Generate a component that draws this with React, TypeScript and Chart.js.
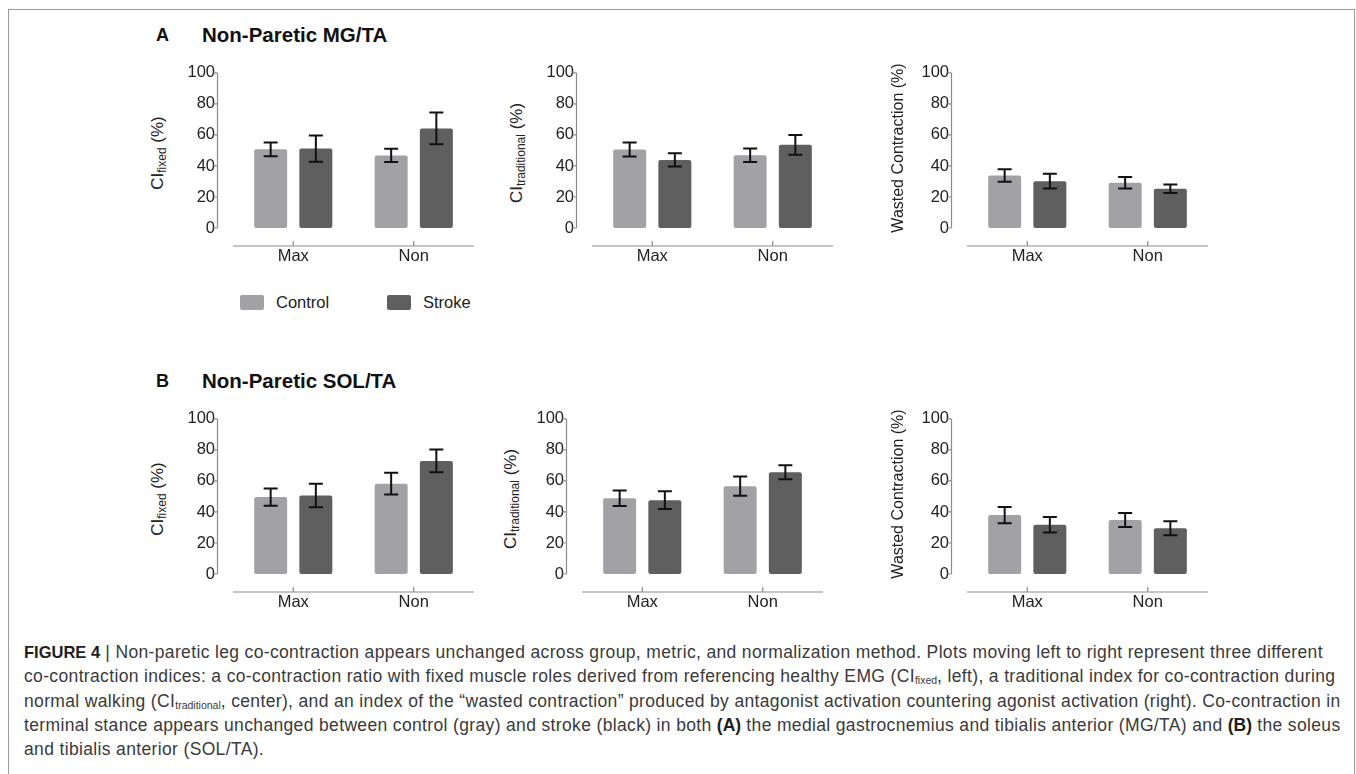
import React, { useEffect, useRef } from 'react';
import { Chart, registerables } from 'chart.js';
Chart.register(...registerables);

// ---------- data ----------
const categories = ['Max', 'Non'];
const seriesNames = ['Control', 'Stroke'];
const yMin = 0;
const yMax = 100;
const yStep = 20;

// A: Non-Paretic MG/TA
const mgFixedControl = [50.7, 46.8];
const mgFixedControlErr = [4.4, 4.3];
const mgFixedStroke = [51.2, 64.2];
const mgFixedStrokeErr = [8.5, 10.2];
const mgTradControl = [50.6, 46.9];
const mgTradControlErr = [4.5, 4.3];
const mgTradStroke = [43.9, 53.6];
const mgTradStrokeErr = [4.3, 6.3];
const mgWastedControl = [33.8, 29.2];
const mgWastedControlErr = [4.0, 3.7];
const mgWastedStroke = [30.2, 25.3];
const mgWastedStrokeErr = [4.8, 2.8];

// B: Non-Paretic SOL/TA
const solFixedControl = [49.6, 58.2];
const solFixedControlErr = [5.6, 7.0];
const solFixedStroke = [50.6, 72.9];
const solFixedStrokeErr = [7.6, 7.3];
const solTradControl = [48.8, 56.6];
const solTradControlErr = [5.0, 6.2];
const solTradStroke = [47.6, 65.6];
const solTradStrokeErr = [5.7, 4.5];
const solWastedControl = [38.0, 34.8];
const solWastedControlErr = [5.2, 4.5];
const solWastedStroke = [31.8, 29.5];
const solWastedStrokeErr = [5.0, 4.5];

// ---------- style ----------
const CONTROL_COLOR = '#a2a2a6';
const STROKE_COLOR = '#5f5f5f';
const AXIS_COLOR = '#8c8c8c';
const TEXT_COLOR = '#222222';
const FONT = '"Liberation Sans", Arial, Helvetica, sans-serif';

const TICK_SIZE = 16.5;
const Y_TICK_PAD = 18;
const Y_SCALE_W = 60;
const X_SCALE_H = 45;
// chart.js adds half the label line height plus tick padding above the area
const TOP_OFFSET = (TICK_SIZE * 1.2) / 2 + Y_TICK_PAD;
const PAD_RIGHT = 10;
const AREA_W = 241;
const AREA_H = 155;

const detachedAxes = {
  id: 'detachedAxes',
  afterDraw(chart: any) {
    const { ctx, chartArea, scales } = chart;
    const xs = scales.x;
    const ys = scales.y;
    ctx.save();
    ctx.strokeStyle = AXIS_COLOR;
    ctx.lineWidth = 1.2;
    const ax = chartArea.left - 15.5;
    const yTop = ys.getPixelForValue(yMax);
    const yBot = ys.getPixelForValue(yMin);
    ctx.beginPath();
    ctx.moveTo(ax, yTop);
    ctx.lineTo(ax, yBot);
    ys.ticks.forEach((t: any) => {
      const py = ys.getPixelForValue(t.value);
      ctx.moveTo(ax - 4, py);
      ctx.lineTo(ax, py);
    });
    const ay = chartArea.bottom + 18;
    ctx.moveTo(chartArea.left, ay);
    ctx.lineTo(chartArea.right, ay);
    xs.ticks.forEach((_t: any, i: number) => {
      const px = xs.getPixelForValue(i);
      ctx.moveTo(px, ay);
      ctx.lineTo(px, ay - 5);
    });
    ctx.stroke();
    ctx.restore();
  },
};

const errorBars = {
  id: 'errorBars',
  afterDatasetsDraw(chart: any) {
    const { ctx, scales } = chart;
    const ys = scales.y;
    ctx.save();
    ctx.strokeStyle = '#111111';
    ctx.lineWidth = 2;
    chart.data.datasets.forEach((ds: any, di: number) => {
      const meta = chart.getDatasetMeta(di);
      meta.data.forEach((bar: any, i: number) => {
        const v = ds.data[i];
        const e = ds.errors[i];
        const x = bar.x;
        const hi = ys.getPixelForValue(v + e);
        const lo = ys.getPixelForValue(v - e);
        const cap = 7;
        ctx.beginPath();
        ctx.moveTo(x, hi);
        ctx.lineTo(x, lo);
        ctx.moveTo(x - cap, hi);
        ctx.lineTo(x + cap, hi);
        ctx.moveTo(x - cap, lo);
        ctx.lineTo(x + cap, lo);
        ctx.stroke();
      });
    });
    ctx.restore();
  },
};

type PanelProps = {
  areaLeft: number;
  areaTop: number;
  control: number[];
  controlErr: number[];
  stroke: number[];
  strokeErr: number[];
};

function BarPanel({ areaLeft, areaTop, control, controlErr, stroke, strokeErr }: PanelProps) {
  const ref = useRef<HTMLCanvasElement | null>(null);
  const cw = Y_SCALE_W + AREA_W + PAD_RIGHT;
  const ch = Math.round(TOP_OFFSET + AREA_H + X_SCALE_H);
  useEffect(() => {
    if (!ref.current) return;
    const tickFont = { family: FONT, size: TICK_SIZE };
    const chart = new Chart(ref.current, {
      type: 'bar',
      data: {
        labels: categories,
        datasets: [
          {
            label: seriesNames[0],
            data: control,
            errors: controlErr,
            backgroundColor: CONTROL_COLOR,
            borderRadius: 2,
            borderSkipped: false,
            categoryPercentage: 0.75,
            barPercentage: 0.73,
          } as any,
          {
            label: seriesNames[1],
            data: stroke,
            errors: strokeErr,
            backgroundColor: STROKE_COLOR,
            borderRadius: 2,
            borderSkipped: false,
            categoryPercentage: 0.75,
            barPercentage: 0.73,
          } as any,
        ],
      },
      options: {
        responsive: false,
        maintainAspectRatio: false,
        animation: false,
        devicePixelRatio: 1,
        layout: { padding: { left: 0, right: PAD_RIGHT, top: 0, bottom: 0 } },
        plugins: { legend: { display: false }, tooltip: { enabled: false } },
        scales: {
          x: {
            type: 'category',
            offset: true,
            grid: { display: false, drawTicks: false },
            border: { display: false },
            ticks: { color: TEXT_COLOR, font: tickFont, padding: 19, maxRotation: 0 },
            afterFit: (s: any) => {
              s.height = X_SCALE_H;
            },
          },
          y: {
            min: yMin,
            max: yMax,
            grid: { display: false, drawTicks: false },
            border: { display: false },
            ticks: { stepSize: yStep, color: TEXT_COLOR, font: tickFont, padding: Y_TICK_PAD },
            afterFit: (s: any) => {
              s.width = Y_SCALE_W;
            },
          },
        },
      } as any,
      plugins: [detachedAxes, errorBars],
    });
    return () => chart.destroy();
  }, [control, controlErr, stroke, strokeErr]);
  return (
    <canvas
      ref={ref}
      width={cw}
      height={ch}
      style={{
        position: 'absolute',
        left: areaLeft - Y_SCALE_W,
        top: areaTop - TOP_OFFSET,
        width: cw,
        height: ch,
      }}
    />
  );
}

function YTitle({ cx, cy, size, children }: { cx: number; cy: number; size: number; children: React.ReactNode }) {
  return (
    <div
      style={{
        position: 'absolute',
        left: cx,
        top: cy,
        transform: 'translate(-50%, -50%) rotate(-90deg)',
        whiteSpace: 'nowrap',
        fontFamily: FONT,
        fontSize: size,
        color: TEXT_COLOR,
        lineHeight: '20px',
      }}
    >
      {children}
    </div>
  );
}

const subStyle: React.CSSProperties = { fontSize: 12, verticalAlign: '-3px', lineHeight: 0 };
const capSub: React.CSSProperties = { fontSize: 10.5, verticalAlign: '-2px', lineHeight: 0, letterSpacing: 0 };

function Header({ top, letter, text }: { top: number; letter: string; text: string }) {
  return (
    <>
      <div style={{ position: 'absolute', left: 156, top, fontFamily: FONT, fontWeight: 700, fontSize: 18, color: '#111', lineHeight: '20px' }}>{letter}</div>
      <div style={{ position: 'absolute', left: 202, top: top - 2, fontFamily: FONT, fontWeight: 700, fontSize: 20.5, color: '#111', lineHeight: '24px', whiteSpace: 'nowrap' }}>{text}</div>
    </>
  );
}

export default function App() {
  const rowA = 73;
  const rowB = 419;
  const captionLine: React.CSSProperties = {
    position: 'absolute',
    left: 24,
    whiteSpace: 'nowrap',
    fontFamily: FONT,
    fontSize: 17.5,
    letterSpacing: '0.35px',
    color: '#3a3a3a',
    lineHeight: '20px',
  };
  const boldCap: React.CSSProperties = { color: '#1e1e1e', letterSpacing: 0 };
  const capTop = 642;
  const capStep = 24.3;
  return (
    <div
      style={{
        position: 'absolute',
        left: 0,
        top: 0,
        width: 1356,
        height: 774,
        overflow: 'hidden',
        background: '#ffffff',
      }}
    >
      <div
        style={{
          position: 'absolute',
          left: 7.5,
          top: 8.5,
          width: 1345,
          height: 820,
          borderTop: '1.5px solid #9a9a9a',
          borderLeft: '1.5px solid #9a9a9a',
          borderRight: '1.5px solid #9a9a9a',
        }}
      />

      <Header top={25} letter="A" text="Non-Paretic MG/TA" />
      <Header top={371} letter="B" text="Non-Paretic SOL/TA" />

      <BarPanel areaLeft={233} areaTop={rowA} control={mgFixedControl} controlErr={mgFixedControlErr} stroke={mgFixedStroke} strokeErr={mgFixedStrokeErr} />
      <BarPanel areaLeft={591.7} areaTop={rowA} control={mgTradControl} controlErr={mgTradControlErr} stroke={mgTradStroke} strokeErr={mgTradStrokeErr} />
      <BarPanel areaLeft={966.7} areaTop={rowA} control={mgWastedControl} controlErr={mgWastedControlErr} stroke={mgWastedStroke} strokeErr={mgWastedStrokeErr} />
      <BarPanel areaLeft={233} areaTop={rowB} control={solFixedControl} controlErr={solFixedControlErr} stroke={solFixedStroke} strokeErr={solFixedStrokeErr} />
      <BarPanel areaLeft={581.7} areaTop={rowB} control={solTradControl} controlErr={solTradControlErr} stroke={solTradStroke} strokeErr={solTradStrokeErr} />
      <BarPanel areaLeft={966.7} areaTop={rowB} control={solWastedControl} controlErr={solWastedControlErr} stroke={solWastedStroke} strokeErr={solWastedStrokeErr} />

      <YTitle cx={158} cy={153} size={17}>CI<span style={subStyle}>fixed</span> (%)</YTitle>
      <YTitle cx={517} cy={153} size={17}>CI<span style={subStyle}>traditional</span> (%)</YTitle>
      <YTitle cx={898} cy={148} size={16}>Wasted Contraction (%)</YTitle>
      <YTitle cx={158} cy={499} size={17}>CI<span style={subStyle}>fixed</span> (%)</YTitle>
      <YTitle cx={511} cy={499} size={17}>CI<span style={subStyle}>traditional</span> (%)</YTitle>
      <YTitle cx={898} cy={494} size={16}>Wasted Contraction (%)</YTitle>

      {/* legend */}
      <div style={{ position: 'absolute', left: 240, top: 295, width: 24, height: 15, background: CONTROL_COLOR, borderRadius: 2 }} />
      <div style={{ position: 'absolute', left: 276, top: 293, fontFamily: FONT, fontSize: 16.5, color: TEXT_COLOR, lineHeight: '19px' }}>{seriesNames[0]}</div>
      <div style={{ position: 'absolute', left: 387, top: 295, width: 24, height: 15, background: STROKE_COLOR, borderRadius: 2 }} />
      <div style={{ position: 'absolute', left: 423, top: 293, fontFamily: FONT, fontSize: 16.5, color: TEXT_COLOR, lineHeight: '19px' }}>{seriesNames[1]}</div>

      {/* caption */}
      <div style={{ ...captionLine, top: capTop }}>
        <b style={{ ...boldCap, fontSize: 16.5 }}>FIGURE 4</b> | Non-paretic leg co-contraction appears unchanged across group, metric, and normalization method. Plots moving left to right represent three different
      </div>
      <div style={{ ...captionLine, top: capTop + capStep }}>
        co-contraction indices: a co-contraction ratio with fixed muscle roles derived from referencing healthy EMG (CI<span style={capSub}>fixed</span>, left), a traditional index for co-contraction during
      </div>
      <div style={{ ...captionLine, top: capTop + capStep * 2 }}>
        normal walking (CI<span style={capSub}>traditional</span>, center), and an index of the “wasted contraction” produced by antagonist activation countering agonist activation (right). Co-contraction in
      </div>
      <div style={{ ...captionLine, top: capTop + capStep * 3 }}>
        terminal stance appears unchanged between control (gray) and stroke (black) in both <b style={boldCap}>(A)</b> the medial gastrocnemius and tibialis anterior (MG/TA) and <b style={boldCap}>(B)</b> the soleus
      </div>
      <div style={{ ...captionLine, top: capTop + capStep * 4 }}>
        and tibialis anterior (SOL/TA).
      </div>
    </div>
  );
}
